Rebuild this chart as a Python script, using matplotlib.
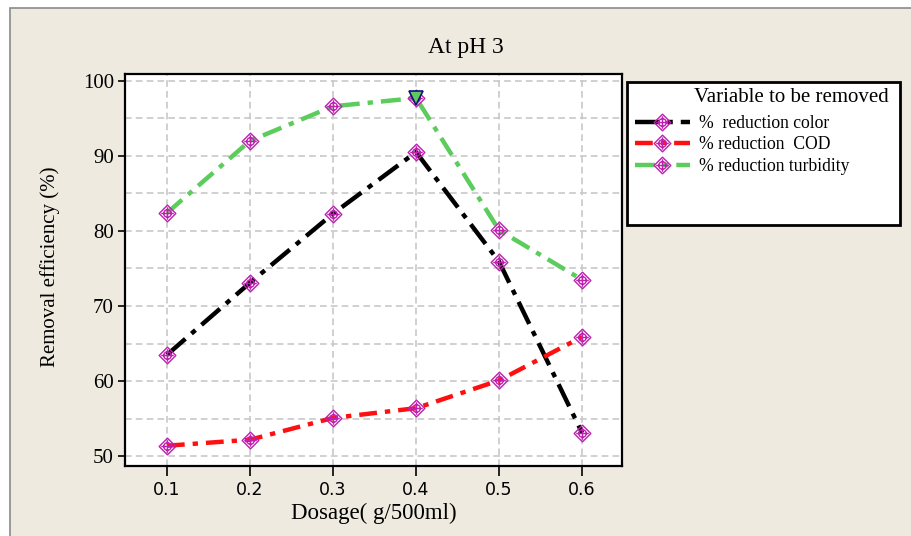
import matplotlib.pyplot as plt
import matplotlib as mpl
from matplotlib.path import Path
from matplotlib.patches import Rectangle
import numpy as np

mpl.rcParams['font.family'] = ['Liberation Serif', 'DejaVu Serif']

# data
dosage = [0.1, 0.2, 0.3, 0.4, 0.5, 0.6]
color_red = [63.5, 73.1, 82.3, 90.5, 75.9, 53.1]
cod_red = [51.4, 52.2, 55.1, 56.4, 60.1, 65.9]
turb_red = [82.4, 92.0, 96.6, 97.7, 80.1, 73.5]
series_names = ['%  reduction color', '% reduction  COD', '% reduction turbidity']
series_colors = ['black', '#ff1010', '#5ccc5c']

# diamond with circle and cross inside
diamond = Path.unit_regular_polygon(4)
circ = Path(Path.unit_circle().vertices * 0.45, Path.unit_circle().codes)
cross = Path([[-0.75, 0], [0.75, 0], [0, -0.75], [0, 0.75]],
             [Path.MOVETO, Path.LINETO, Path.MOVETO, Path.LINETO])
mk = Path.make_compound_path(diamond, circ, cross)
mk_col = '#c020b0'

fig = plt.figure(figsize=(9.12, 5.36), dpi=100)
fig.patch.set_facecolor('white')
fig.patches.append(Rectangle((10/912, -0.01), 1, (536-8)/536 + 0.01, transform=fig.transFigure,
                             facecolor='#eeeae0', edgecolor='#8a8a8a', lw=1.2, zorder=-5))
ax = fig.add_axes([125/912, 70/536, 497/912, 392/536])

styles = [(0, (5.5, 1.8, 1.2, 1.8)), (0, (4, 1.8, 1.2, 1.8)), (0, (4.5, 1.8, 1.2, 1.8))]
handles = []
for y, name, c, ls in zip([color_red, cod_red, turb_red], series_names, series_colors, styles):
    h, = ax.plot(dosage, y, color=c, lw=3.2, linestyle=ls, marker=mk, markersize=12,
                 markerfacecolor='none', markeredgecolor=mk_col, markeredgewidth=1.0,
                 label=name, zorder=3)
    handles.append(h)

# highlighted point on turbidity
ax.plot(dosage[3], turb_red[3], marker='v', markersize=10, markerfacecolor='#5ccc5c',
        markeredgecolor='#101080', markeredgewidth=1.2, linestyle='none', zorder=4)

ax.set_xlim(0.0495, 0.648)
ax.set_ylim(48.7, 100.9)
ax.set_xticks(dosage)
ax.set_xticklabels(['0.1', '0.2', '0.3', '0.4', '0.5', '0.6'], family='DejaVu Sans', fontsize=12.5)
ax.set_yticks([50, 60, 70, 80, 90, 100])
ax.set_yticks(np.arange(55, 100, 10), minor=True)
ax.tick_params(axis='y', labelsize=15, length=5, width=1.2, direction='out', pad=3)
ax.tick_params(axis='y', which='minor', length=0)
ax.tick_params(axis='x', length=7, width=1.2, direction='out', pad=4)
ax.grid(True, which='both', color='#c8c8c8', linestyle=(0, (4, 2.5)), lw=1.2)
ax.set_axisbelow(True)
for s in ax.spines.values():
    s.set_linewidth(1.6)

fig.text(466/912, 1 - 47/536, 'At pH 3', fontsize=17, ha='center', va='center')
ax.set_xlabel('Dosage( g/500ml)', fontsize=16.5, va='center')
ax.xaxis.set_label_coords(0.501, -0.122)
ax.set_ylabel('Removal efficiency (%)', fontsize=15, va='center')
ax.yaxis.set_label_coords(-0.151, 0.508)

# legend box
fig.patches.append(Rectangle((627/912, (536-225)/536), 273/912, 143/536, transform=fig.transFigure,
                             facecolor='white', edgecolor='black', lw=2, zorder=1))
fig.text(694/912, 1 - 98/536, 'Variable to be removed', fontsize=15, va='center', ha='left')
leg = fig.legend(handles=handles, loc='upper left', bbox_to_anchor=(628/912, 1 - 108/536),
                 frameon=False, fontsize=12.7, handlelength=3.1, handletextpad=0.5,
                 labelspacing=0.25, markerscale=1.0, borderaxespad=0)

plt.savefig('out.png', dpi=100)
